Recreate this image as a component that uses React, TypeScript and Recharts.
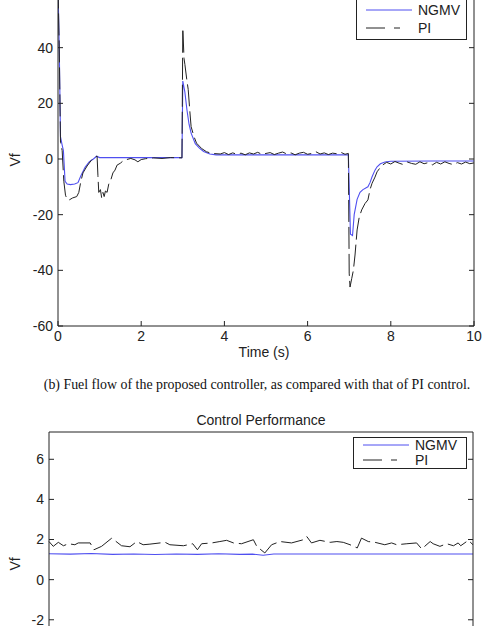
import { LineChart, Line, XAxis, YAxis } from 'recharts'

// (b) fuel flow, time in seconds
const fuelNgmvTime = [
  0, 0.03, 0.06, 0.1, 0.13, 0.17, 0.22, 0.3, 0.4, 0.48,
  0.55, 0.65, 0.75, 0.85, 0.93, 1.0, 1.5, 2.0, 2.5, 2.98,
  3.0, 3.05, 3.1, 3.15, 3.2, 3.3, 3.4, 3.5, 3.65, 3.8,
  4.5, 5.5, 6.5, 6.98, 7.0, 7.03, 7.08, 7.12, 7.19, 7.26,
  7.33, 7.45, 7.5, 7.55, 7.62, 7.67, 7.75, 7.86, 8.0, 9.0,
  10,
]
const fuelNgmvVf = [
  62, 40, 8, 5, 3, -8, -9, -9.2, -9, -8.5,
  -6, -3, -1, 0, 1.0, 0.5, 0.5, 0.5, 0.5, 0.5,
  28, 24, 17.6, 12.5, 9.3, 5.5, 3.9, 2.7, 1.8, 1.5,
  1.5, 1.5, 1.5, 1.5, -10, -27, -27.5, -20, -14.5, -12,
  -11, -10, -8.5, -6.4, -4, -2.8, -1.7, -1.1, -0.8, -0.7,
  -0.7,
]
const fuelPiTime = [
  0, 0.03, 0.06, 0.1, 0.14, 0.18, 0.22, 0.26, 0.35, 0.45,
  0.5, 0.55, 0.6, 0.7, 0.8, 0.88, 0.94, 0.96, 0.98, 1.02,
  1.05, 1.08, 1.11, 1.14, 1.18, 1.22, 1.27, 1.32, 1.37, 1.42,
  1.5, 1.57, 1.65, 1.75, 1.85, 1.92, 2.0, 2.1, 2.3, 2.5,
  2.7, 2.98, 3.0, 3.03, 3.05, 3.1, 3.13, 3.17, 3.2, 3.27,
  3.33, 3.45, 3.57, 3.7, 3.9, 4.0, 4.1, 4.2, 4.3, 4.4,
  4.5, 4.6, 4.7, 4.8, 4.9, 5.0, 5.1, 5.2, 5.3, 5.4,
  5.5, 5.6, 5.7, 5.8, 5.9, 6.0, 6.1, 6.2, 6.3, 6.4,
  6.5, 6.6, 6.7, 6.8, 6.9, 6.98, 7.0, 7.02, 7.06, 7.1,
  7.14, 7.19, 7.24, 7.3, 7.38, 7.45, 7.5, 7.55, 7.62, 7.67,
  7.75, 7.8, 7.9, 8.0, 8.1, 8.2, 8.3, 8.4, 8.5, 8.6,
  8.7, 8.8, 8.9, 9.0, 9.1, 9.2, 9.3, 9.4, 9.5, 9.6,
  9.7, 9.8, 9.9, 10,
]
const fuelPiVf = [
  62, 40, 6, 3, -8, -13, -14.5, -14.8, -14, -13.5,
  -12, -8, -5, -2.5, -0.5, 0.8, 1, -6, -12, -11,
  -14, -12, -13.5, -11.5, -12, -9, -7.5, -5, -4, -2.2,
  -1.5, -0.6, -0.2, 0.2, -0.3, -1, -0.2, 0.1, 0.4, 0.2,
  0.5, 0.4, 47, 36, 34, 28, 25, 17, 11.6, 8,
  5.7, 3.8, 2.6, 2.0, 1.8, 2.3, 1.6, 2.2, 1.7, 2.1,
  1.5, 2.2, 1.8, 2.4, 1.7, 2.0, 2.3, 1.6, 2.1, 2.5,
  1.8, 2.2, 1.5, 2.1, 2.4, 1.7, 2.0, 2.6, 1.8, 2.2,
  1.6, 2.1, 1.9, 2.4, 1.7, 2.0, -41, -46, -43, -40,
  -34.5, -25.5, -21, -18.3, -16, -14.7, -11, -8.7, -6.5, -4.6,
  -3, -2.2, -1.2, -1.8, -0.9, -1.5, -2.0, -1.1, -1.6, -1.9,
  -1.0, -1.7, -1.3, -2.1, -1.2, -1.8, -1.0, -1.6, -2.0, -1.3,
  -1.8, -1.1, -1.7, -1.4,
]
const fuelXTicks = [0, 2, 4, 6, 8, 10]
const fuelYTicks = [-60, -40, -20, 0, 20, 40]

// Control Performance
const perfNgmvX = [0, 5, 10, 15, 20, 25, 30, 35, 40, 45, 48, 50.5, 53, 60, 70, 80, 90, 100]
const perfNgmvVf = [1.29, 1.27, 1.3, 1.26, 1.28, 1.25, 1.28, 1.26, 1.29, 1.26, 1.27, 1.22, 1.28, 1.28, 1.28, 1.28, 1.28, 1.28]
const perfPiX = [
  0, 1, 2.2, 3.4, 4.6, 6.1, 6.9, 9.7, 10.6, 12.4,
  14.8, 17.1, 19.1, 20.7, 22.2, 23.8, 26.2, 27.4, 28.5, 31.7,
  33.9, 35.0, 36.0, 38.4, 40.3, 41.9, 43.5, 45.4, 48.2, 49.0,
  50.9, 52.5, 54.5, 57.2, 60.0, 60.8, 61.9, 63.9, 66.3, 67.9,
  69.4, 71.0, 72.7, 73.7, 75.3, 76.9, 79.2, 80.8, 82.0, 84.4,
  86.7, 87.9, 89.9, 90.6, 92.2, 93.8, 95.4, 96.5, 97.1, 98.9,
  100,
]
const perfPiVf = [
  1.9, 1.66, 1.86, 1.69, 1.79, 1.74, 1.83, 1.83, 1.49, 1.66,
  2.07, 1.69, 1.64, 1.9, 1.74, 1.77, 1.83, 1.86, 1.74, 1.69,
  1.79, 1.49, 1.79, 1.83, 1.9, 1.96, 1.83, 1.79, 1.99, 1.66,
  1.33, 1.74, 1.9, 1.83, 1.99, 2.15, 1.83, 1.96, 1.86, 1.9,
  1.86, 1.74, 1.58, 2.07, 1.9, 1.86, 1.74, 1.83, 1.74, 1.79,
  1.83, 1.53, 1.9, 1.79, 1.66, 1.79, 1.69, 1.83, 1.69, 1.96,
  1.74,
]
const perfXTicks = [0, 25, 50, 75, 100]
const perfYTicks = [-2, 0, 2, 4, 6]

const seriesNames = ['NGMV', 'PI']

const SANS = '"Liberation Sans", Arial, sans-serif'
const INK = '#222'
const BLUE = '#4f4ff0'
const PI_DASH = '22 5'

const zip = (xs: number[], ys: number[]) => xs.map((x, i) => ({ x, v: ys[i] }))

const tickStyle = { fill: INK, fontSize: 14, fontFamily: SANS }
const blank = () => ''

function LegendBox({ x, y, w, h, rows }: { x: number; y: number; w: number; h: number; rows: number[] }) {
  return (
    <g>
      <rect x={x + 0.5} y={y + 0.5} width={w} height={h} fill="#fff" stroke={INK} />
      <line x1={x + 10} x2={x + 56} y1={rows[0]} y2={rows[0]} stroke={BLUE} />
      <text x={x + 62} y={rows[0]} dominantBaseline="central" fontSize={14} fontFamily={SANS} fill={INK}>
        {seriesNames[0]}
      </text>
      <line x1={x + 10} x2={x + 44} y1={rows[1]} y2={rows[1]} stroke={INK} strokeDasharray="19 9" />
      <text x={x + 62} y={rows[1]} dominantBaseline="central" fontSize={14} fontFamily={SANS} fill={INK}>
        {seriesNames[1]}
      </text>
    </g>
  )
}

export default function App() {
  const fuelNgmv = zip(fuelNgmvTime, fuelNgmvVf)
  const fuelPi = zip(fuelPiTime, fuelPiVf)
  const perfNgmv = zip(perfNgmvX, perfNgmvVf)
  const perfPi = zip(perfPiX, perfPiVf)

  return (
    <div
      style={{
        position: 'absolute',
        left: 0,
        top: 0,
        width: 482,
        height: 626,
        overflow: 'hidden',
        background: '#fff',
        fontFamily: SANS,
        color: INK,
      }}
    >
      <div style={{ position: 'absolute', left: 0, top: -20 }}>
        <LineChart width={500} height={386} margin={{ top: 11, right: 25, left: 0, bottom: 0 }}>
          <XAxis
            xAxisId="b"
            dataKey="x"
            type="number"
            domain={[0, 10]}
            ticks={fuelXTicks}
            interval={0}
            allowDataOverflow
            tickSize={-5}
            tickMargin={10}
            height={40}
            stroke={INK}
            tick={tickStyle}
          />
          <XAxis
            xAxisId="t"
            orientation="top"
            type="number"
            domain={[0, 10]}
            ticks={fuelXTicks}
            interval={0}
            tickSize={-5}
            tickFormatter={blank}
            height={1}
            stroke={INK}
          />
          <YAxis
            yAxisId="l"
            type="number"
            domain={[-60, 60]}
            ticks={fuelYTicks}
            interval={0}
            allowDataOverflow
            tickSize={-5}
            tickMargin={10}
            width={58}
            stroke={INK}
            tick={tickStyle}
          />
          <YAxis
            yAxisId="r"
            orientation="right"
            type="number"
            domain={[-60, 60]}
            ticks={fuelYTicks}
            interval={0}
            allowDataOverflow
            tickSize={-5}
            tickFormatter={blank}
            width={1}
            stroke={INK}
          />
          <Line
            xAxisId="b"
            yAxisId="l"
            data={fuelNgmv}
            dataKey="v"
            type="linear"
            stroke={BLUE}
            strokeWidth={1.1}
            dot={false}
            isAnimationActive={false}
          />
          <Line
            xAxisId="b"
            yAxisId="l"
            data={fuelPi}
            dataKey="v"
            type="linear"
            stroke={INK}
            strokeWidth={1}
            strokeDasharray={PI_DASH}
            dot={false}
            isAnimationActive={false}
          />
        </LineChart>
      </div>

      <div style={{ position: 'absolute', left: 0, top: 420 }}>
        <LineChart width={499} height={306} margin={{ top: 11, right: 25, left: 0, bottom: 0 }}>
          {/* the bottom edge of this plot lies below the page, so its labels are not shown */}
          <XAxis
            xAxisId="b"
            dataKey="x"
            type="number"
            domain={[0, 100]}
            ticks={perfXTicks}
            interval={0}
            tickSize={-5}
            tickFormatter={blank}
            height={30}
            stroke={INK}
          />
          <XAxis
            xAxisId="t"
            orientation="top"
            type="number"
            domain={[0, 100]}
            ticks={perfXTicks}
            interval={0}
            tickSize={-5}
            tickFormatter={blank}
            height={1}
            stroke={INK}
          />
          <YAxis
            yAxisId="l"
            type="number"
            domain={[-5.8, 7.36]}
            ticks={perfYTicks}
            interval={0}
            allowDataOverflow
            tickSize={-5}
            tickMargin={10}
            width={49}
            stroke={INK}
            tick={tickStyle}
          />
          <YAxis
            yAxisId="r"
            orientation="right"
            type="number"
            domain={[-5.8, 7.36]}
            ticks={perfYTicks}
            interval={0}
            allowDataOverflow
            tickSize={-5}
            tickFormatter={blank}
            width={1}
            stroke={INK}
          />
          <Line
            xAxisId="b"
            yAxisId="l"
            data={perfNgmv}
            dataKey="v"
            type="linear"
            stroke={BLUE}
            strokeWidth={1.1}
            dot={false}
            isAnimationActive={false}
          />
          <Line
            xAxisId="b"
            yAxisId="l"
            data={perfPi}
            dataKey="v"
            type="linear"
            stroke={INK}
            strokeWidth={1}
            strokeDasharray={PI_DASH}
            dot={false}
            isAnimationActive={false}
          />
        </LineChart>
      </div>

      {/* axis labels, caption, title */}
      <div style={{ position: 'absolute', left: 15, top: 160, transform: 'translate(-50%, -50%) rotate(-90deg)', fontSize: 14 }}>
        Vf
      </div>
      <div style={{ position: 'absolute', left: 264, top: 352, transform: 'translate(-50%, -50%)', fontSize: 14, whiteSpace: 'nowrap' }}>
        Time (s)
      </div>
      <div
        style={{
          position: 'absolute',
          left: 257,
          top: 385,
          transform: 'translate(-50%, -50%)',
          fontSize: 13.9,
          fontFamily: '"Liberation Serif", "Times New Roman", serif',
          whiteSpace: 'nowrap',
          color: '#111',
        }}
      >
        (b) Fuel flow of the proposed controller, as compared with that of PI control.
      </div>
      <div style={{ position: 'absolute', left: 261, top: 420, transform: 'translate(-50%, -50%)', fontSize: 14, whiteSpace: 'nowrap' }}>
        Control Performance
      </div>
      <div style={{ position: 'absolute', left: 15, top: 564, transform: 'translate(-50%, -50%) rotate(-90deg)', fontSize: 14 }}>
        Vf
      </div>

      <svg width={482} height={626} style={{ position: 'absolute', left: 0, top: 0, pointerEvents: 'none' }}>
        <LegendBox x={356} y={-5} w={110} h={44} rows={[10, 28]} />
        <LegendBox x={353} y={437} w={113} h={31} rows={[445, 460]} />
      </svg>
    </div>
  )
}
